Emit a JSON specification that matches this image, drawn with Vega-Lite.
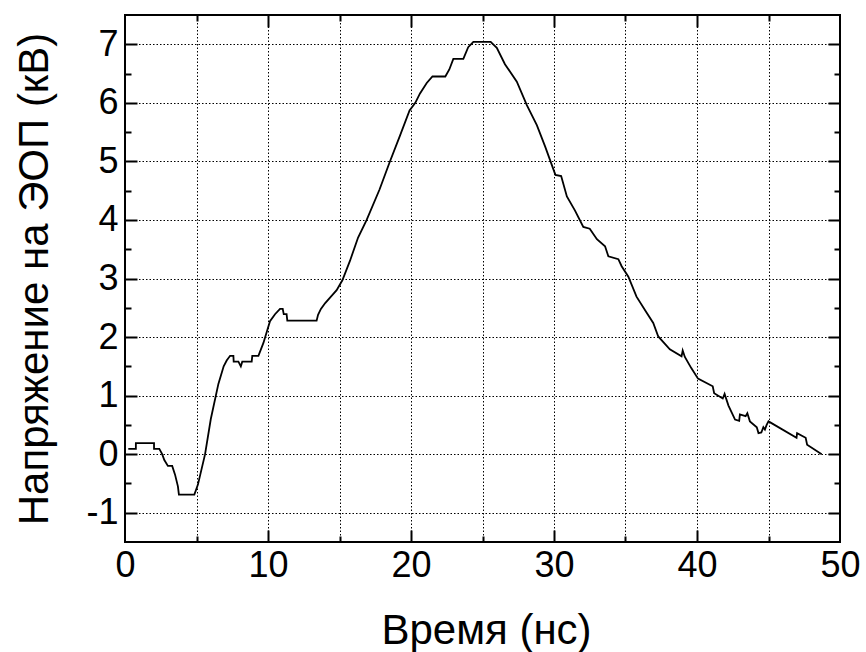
{
  "$schema": "https://vega.github.io/schema/vega-lite/v6.json",
  "autosize": "none",
  "width": 715,
  "height": 527,
  "padding": {"left": 125, "top": 15, "right": 26, "bottom": 110},
  "background": "white",
  "config": {
    "view": {"stroke": "black", "strokeWidth": 2},
    "font": "Liberation Sans",
    "axis": {"labelColor": "black", "titleColor": "black", "labelFont": "Liberation Sans", "titleFont": "Liberation Sans", "titleFontWeight": "normal"}
  },
  "data": {
    "values": [
      {"t": 0.23, "v": 0.09}, {"t": 0.76, "v": 0.09}, {"t": 0.76, "v": 0.19}, {"t": 2.03, "v": 0.19},
      {"t": 2.03, "v": 0.09}, {"t": 2.4, "v": 0.09}, {"t": 2.6, "v": 0.0}, {"t": 2.75, "v": -0.1},
      {"t": 3.0, "v": -0.2}, {"t": 3.3, "v": -0.2}, {"t": 3.5, "v": -0.35}, {"t": 3.7, "v": -0.55},
      {"t": 3.77, "v": -0.69}, {"t": 4.85, "v": -0.69}, {"t": 5.1, "v": -0.52}, {"t": 5.6, "v": 0.0},
      {"t": 6.0, "v": 0.6}, {"t": 6.53, "v": 1.2}, {"t": 6.9, "v": 1.5}, {"t": 7.11, "v": 1.6},
      {"t": 7.35, "v": 1.68}, {"t": 7.58, "v": 1.68}, {"t": 7.6, "v": 1.58}, {"t": 7.93, "v": 1.58},
      {"t": 8.1, "v": 1.5}, {"t": 8.2, "v": 1.58}, {"t": 8.86, "v": 1.58}, {"t": 8.9, "v": 1.68},
      {"t": 9.33, "v": 1.68}, {"t": 9.68, "v": 1.9}, {"t": 10.14, "v": 2.27}, {"t": 10.49, "v": 2.39},
      {"t": 10.84, "v": 2.48}, {"t": 11.03, "v": 2.48}, {"t": 11.1, "v": 2.39}, {"t": 11.3, "v": 2.39},
      {"t": 11.35, "v": 2.28}, {"t": 13.4, "v": 2.28}, {"t": 13.5, "v": 2.38}, {"t": 13.7, "v": 2.48},
      {"t": 14.0, "v": 2.58}, {"t": 14.4, "v": 2.69}, {"t": 14.8, "v": 2.8}, {"t": 15.2, "v": 2.97},
      {"t": 15.73, "v": 3.3}, {"t": 16.3, "v": 3.7}, {"t": 16.9, "v": 4.0}, {"t": 17.8, "v": 4.52},
      {"t": 18.5, "v": 4.98}, {"t": 19.23, "v": 5.44}, {"t": 19.9, "v": 5.87}, {"t": 20.3, "v": 6.0},
      {"t": 20.63, "v": 6.16}, {"t": 21.1, "v": 6.34}, {"t": 21.5, "v": 6.45}, {"t": 22.4, "v": 6.45},
      {"t": 22.68, "v": 6.57}, {"t": 22.96, "v": 6.75}, {"t": 23.66, "v": 6.75}, {"t": 24.0, "v": 6.95},
      {"t": 24.36, "v": 7.04}, {"t": 25.57, "v": 7.04}, {"t": 26.0, "v": 6.94}, {"t": 26.57, "v": 6.66},
      {"t": 27.4, "v": 6.36}, {"t": 28.1, "v": 5.96}, {"t": 28.8, "v": 5.62}, {"t": 29.37, "v": 5.26},
      {"t": 30.1, "v": 4.77}, {"t": 30.5, "v": 4.75}, {"t": 30.9, "v": 4.4}, {"t": 31.47, "v": 4.16},
      {"t": 32.05, "v": 3.88}, {"t": 32.5, "v": 3.85}, {"t": 33.0, "v": 3.67}, {"t": 33.57, "v": 3.55},
      {"t": 33.8, "v": 3.38}, {"t": 34.5, "v": 3.33}, {"t": 34.73, "v": 3.21}, {"t": 35.2, "v": 3.03},
      {"t": 35.77, "v": 2.69}, {"t": 36.47, "v": 2.42}, {"t": 36.94, "v": 2.24}, {"t": 37.29, "v": 2.01},
      {"t": 38.1, "v": 1.79}, {"t": 38.92, "v": 1.67}, {"t": 39.0, "v": 1.77}, {"t": 39.15, "v": 1.66},
      {"t": 39.6, "v": 1.47}, {"t": 40.07, "v": 1.29}, {"t": 41.1, "v": 1.16}, {"t": 41.2, "v": 1.04},
      {"t": 41.8, "v": 0.95}, {"t": 41.93, "v": 1.03}, {"t": 42.2, "v": 0.83}, {"t": 42.66, "v": 0.59},
      {"t": 42.95, "v": 0.57}, {"t": 43.0, "v": 0.68}, {"t": 43.4, "v": 0.65}, {"t": 43.52, "v": 0.7},
      {"t": 43.7, "v": 0.56}, {"t": 44.18, "v": 0.46}, {"t": 44.3, "v": 0.36}, {"t": 44.5, "v": 0.37},
      {"t": 44.64, "v": 0.46}, {"t": 44.75, "v": 0.42}, {"t": 44.87, "v": 0.5}, {"t": 45.0, "v": 0.56},
      {"t": 46.96, "v": 0.28}, {"t": 47.0, "v": 0.36}, {"t": 47.6, "v": 0.28}, {"t": 47.7, "v": 0.16},
      {"t": 48.72, "v": 0.0}
    ]
  },
  "resolve": {"axis": {"x": "independent", "y": "independent"}},
  "layer": [
    {
      "mark": {"type": "line", "opacity": 0},
      "encoding": {
        "x": {"field": "t", "type": "quantitative", "scale": {"domain": [0, 50], "nice": false, "zero": false},
          "axis": {"orient": "top", "values": [10, 20, 30, 40], "labels": false, "domain": false, "ticks": true, "tickSize": -12, "tickWidth": 2, "tickColor": "black",
            "grid": true, "gridColor": "black", "gridDash": [1.5, 2], "gridWidth": 1, "gridOpacity": 1, "title": null}},
        "y": {"field": "v", "type": "quantitative", "scale": {"domain": [-1.5, 7.5], "nice": false, "zero": false},
          "axis": {"orient": "right", "values": [-1, 0, 1, 2, 3, 4, 5, 6, 7], "labels": false, "domain": false, "ticks": true, "tickSize": -12, "tickWidth": 2, "tickColor": "black",
            "grid": true, "gridColor": "black", "gridDash": [1.5, 2], "gridWidth": 1, "gridOpacity": 1, "title": null}}
      }
    },
    {
      "mark": {"type": "line", "opacity": 0},
      "encoding": {
        "x": {"field": "t", "type": "quantitative",
          "axis": {"orient": "top", "values": [5, 15, 25, 35, 45], "labels": false, "domain": false, "ticks": true, "tickSize": -6, "tickWidth": 2, "tickColor": "black",
            "grid": true, "gridColor": "black", "gridDash": [1.5, 2], "gridWidth": 1, "gridOpacity": 1, "title": null}},
        "y": {"field": "v", "type": "quantitative",
          "axis": {"orient": "right", "values": [-0.5, 0.5, 1.5, 2.5, 3.5, 4.5, 5.5, 6.5], "labels": false, "domain": false, "ticks": true, "tickSize": -6, "tickWidth": 2, "tickColor": "black",
            "grid": false, "title": null}}
      }
    },
    {
      "mark": {"type": "line", "opacity": 0},
      "encoding": {
        "x": {"field": "t", "type": "quantitative",
          "axis": {"orient": "bottom", "values": [5, 15, 25, 35, 45], "labels": false, "domain": false, "ticks": true, "tickSize": -6, "tickWidth": 2, "tickColor": "black", "grid": false, "title": null}},
        "y": {"field": "v", "type": "quantitative",
          "axis": {"orient": "left", "values": [-0.5, 0.5, 1.5, 2.5, 3.5, 4.5, 5.5, 6.5], "labels": false, "domain": false, "ticks": true, "tickSize": -6, "tickWidth": 2, "tickColor": "black", "grid": false, "title": null}}
      }
    },
    {
      "mark": {"type": "line", "opacity": 0},
      "encoding": {
        "x": {"field": "t", "type": "quantitative",
          "axis": {"orient": "bottom", "values": [10, 20, 30, 40], "labels": false, "domain": false, "ticks": true, "tickSize": -12, "tickWidth": 2, "tickColor": "black", "grid": false, "title": null}},
        "y": {"field": "v", "type": "quantitative",
          "axis": {"orient": "left", "values": [-1, 0, 1, 2, 3, 4, 5, 6, 7], "labels": false, "domain": false, "ticks": true, "tickSize": -12, "tickWidth": 2, "tickColor": "black", "grid": false, "title": null}}
      }
    },
    {
      "mark": {"type": "line", "color": "black", "strokeWidth": 1.8},
      "encoding": {
        "x": {"field": "t", "type": "quantitative",
          "axis": {"orient": "bottom", "values": [0, 10, 20, 30, 40, 50], "labels": true, "labelFlush": false, "labelOverlap": false, "labelFontSize": 36, "labelPadding": 6,
            "domain": false, "ticks": false, "tickSize": 0, "grid": false,
            "title": "Время (нс)", "titleFontSize": 42, "titleX": 361, "titleY": 101, "titleBaseline": "alphabetic", "titleAlign": "center"}},
        "y": {"field": "v", "type": "quantitative",
          "axis": {"orient": "left", "values": [-1, 0, 1, 2, 3, 4, 5, 6, 7], "labels": true, "labelOverlap": false, "labelFontSize": 36, "labelPadding": 7,
            "labelExpr": "toString(datum.value)",
            "domain": false, "ticks": false, "tickSize": 0, "grid": false,
            "title": "Напряжение на ЭОП (кВ)", "titleFontSize": 42, "titleX": -78, "titleY": 263.5, "titleAngle": -90, "titleBaseline": "alphabetic", "titleAlign": "center"}}
      }
    }
  ]
}
